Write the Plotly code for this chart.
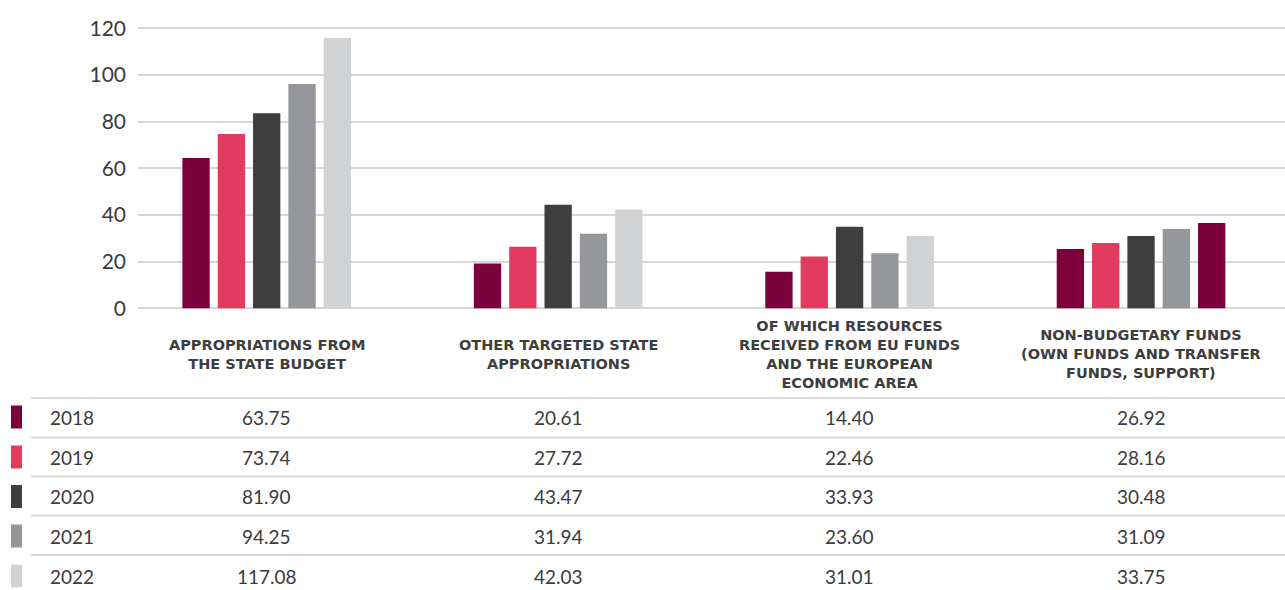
import plotly.graph_objects as go

# ---------------- data ----------------
categories = [
    "APPROPRIATIONS FROM<br>THE STATE BUDGET",
    "OTHER TARGETED STATE<br>APPROPRIATIONS",
    "OF WHICH RESOURCES<br>RECEIVED FROM EU FUNDS<br>AND THE EUROPEAN<br>ECONOMIC AREA",
    "NON-BUDGETARY FUNDS<br>(OWN FUNDS AND TRANSFER<br>FUNDS, SUPPORT)",
]
years = ["2018", "2019", "2020", "2021", "2022"]

# bar heights as drawn in the picture
bars_2018 = [64.4, 19.2, 15.7, 25.4]
bars_2019 = [74.7, 26.4, 22.2, 28.0]
bars_2020 = [83.6, 44.4, 35.0, 31.0]
bars_2021 = [96.1, 32.0, 23.6, 34.0]
bars_2022 = [115.8, 42.3, 31.0, 36.6]

# values printed in the table
table_2018 = ["63.75", "20.61", "14.40", "26.92"]
table_2019 = ["73.74", "27.72", "22.46", "28.16"]
table_2020 = ["81.90", "43.47", "33.93", "30.48"]
table_2021 = ["94.25", "31.94", "23.60", "31.09"]
table_2022 = ["117.08", "42.03", "31.01", "33.75"]

y_ticks = [0, 20, 40, 60, 80, 100, 120]

# ---------------- styles ----------------
W, H = 1285, 590
L = 138  # left margin (px)
PW = W - L
year_colors = ["#7B003C", "#E33A5F", "#3E3E3E", "#96979B", "#D1D2D4"]
bar_series = [bars_2018, bars_2019, bars_2020, bars_2021, bars_2022]
table_series = [table_2018, table_2019, table_2020, table_2021, table_2022]
text_color = "#3B3B3B"
grid_color = "#D6D6D8"
FONT = "Lato, 'Open Sans', sans-serif"
BOLD_FONT = "'DejaVu Sans', sans-serif"


def py(px):
    """page pixel y (from top) -> paper y"""
    return 1 - px / H


def pxx(px):
    """page pixel x -> paper x (paper is relative to plot area)"""
    return (px - L) / PW


fig = go.Figure()
for i, (yr, vals) in enumerate(zip(years, bar_series)):
    colors = [year_colors[i]] * len(vals)
    if yr == "2022":
        colors[3] = year_colors[0]  # last bar of last group drawn in dark red
    fig.add_trace(go.Bar(
        x=categories, y=vals, name=yr,
        marker=dict(color=colors, line=dict(width=0)),
        hoverinfo="y+name",
    ))

# plot area geometry
y_zero_px, y_120_px = 308.3, 28.3
ppu = (y_zero_px - y_120_px) / 120.0
y_lo, y_hi = -0.6, 121.5
dom0 = py(y_zero_px + (0 - y_lo) * ppu)
dom1 = py(y_120_px - (y_hi - 120) * ppu)

annotations = []
for c in categories:
    annotations.append(dict(
        x=c, xref="x", y=py(354), yref="paper", yanchor="middle", xanchor="center",
        text=c, showarrow=False, align="center",
        font=dict(family=BOLD_FONT, size=14.5, color="#3D3D3D", weight="bold"),
    ))

shapes = []
row_centers = [417, 457, 496.5, 536, 576]
row_lines = [398, 437.5, 476.5, 515.5, 555]
for yl in row_lines:
    shapes.append(dict(type="line", xref="paper", yref="paper",
                       x0=pxx(31), x1=1, y0=py(yl), y1=py(yl),
                       line=dict(color=grid_color, width=2)))
for i, (yr, row) in enumerate(zip(years, table_series)):
    yc = row_centers[i]
    shapes.append(dict(type="rect", xref="paper", yref="paper",
                       x0=pxx(11), x1=pxx(22), y0=py(yc - 11.5), y1=py(yc + 11.5),
                       fillcolor=year_colors[i], line=dict(width=0)))
    annotations.append(dict(
        x=pxx(48), xref="paper", y=py(yc), yref="paper", xanchor="left", yanchor="middle",
        text=yr, showarrow=False, font=dict(family=FONT, size=19, color=text_color)))
    for c, v in zip(categories, row):
        annotations.append(dict(
            x=c, xref="x", y=py(yc), yref="paper", xanchor="center", yanchor="middle",
            text=v, showarrow=False, font=dict(family=FONT, size=19, color=text_color)))

fig.update_layout(
    width=W, height=H,
    margin=dict(l=L, r=0, t=0, b=0, autoexpand=False),
    paper_bgcolor="white", plot_bgcolor="white",
    barmode="group", bargap=0.394, bargroupgap=0.227,
    showlegend=False,
    font=dict(family=FONT, color=text_color),
    xaxis=dict(range=[-0.4416, 3.494], showticklabels=False, showgrid=False,
               zeroline=False, showline=False, ticks="", automargin=False),
    yaxis=dict(domain=[dom0, dom1], range=[y_lo, y_hi], tickvals=y_ticks,
               showgrid=True, gridcolor=grid_color, gridwidth=2,
               zeroline=True, zerolinecolor=grid_color, zerolinewidth=2,
               showline=False, ticks="", ticklabelstandoff=11, automargin=False,
               tickfont=dict(family=FONT, size=21, color=text_color)),
    annotations=annotations,
    shapes=shapes,
)

fig.write_html("out.html", config={"displayModeBar": False},
               post_script="document.body.style.margin='0';document.body.style.overflow='hidden';")
